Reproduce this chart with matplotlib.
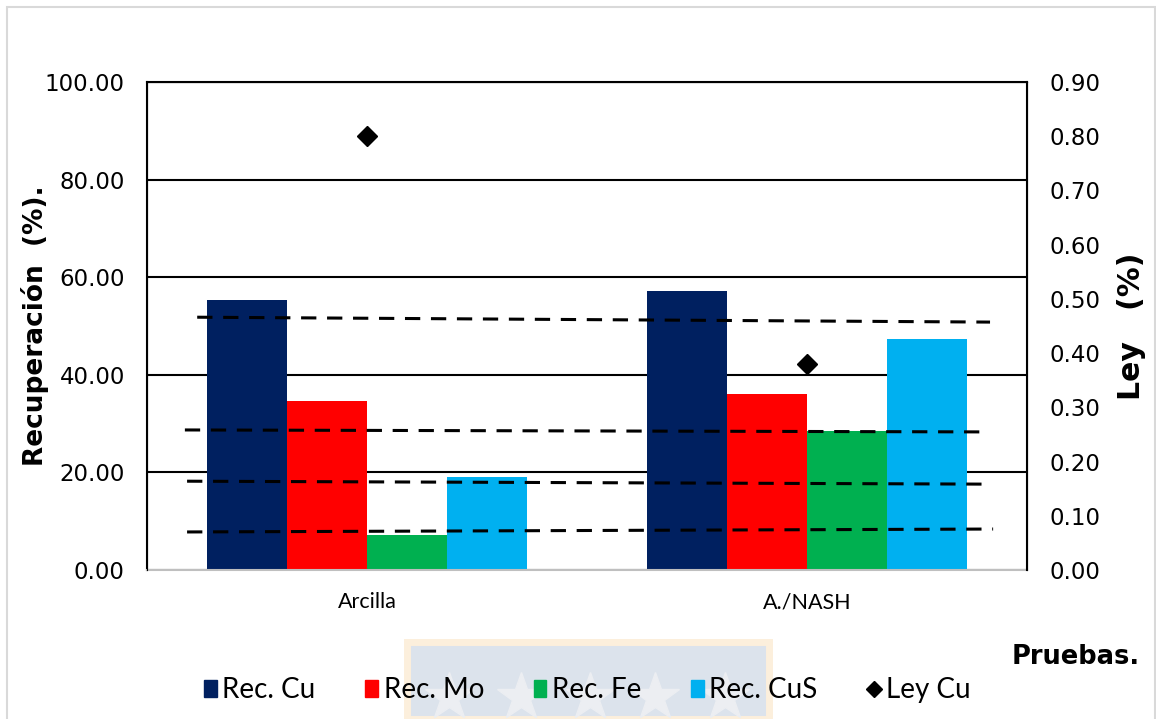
import matplotlib.pyplot as plt
import matplotlib.patches as mpatches
from matplotlib.lines import Line2D
import numpy as np

# data
pruebas = ["Arcilla", "A./NASH"]
rec_cu = [55.3, 57.2]
rec_mo = [34.6, 36.1]
rec_fe = [7.2, 28.5]
rec_cus = [19.1, 47.3]
ley_cu = [0.80, 0.38]

# hand drawn dashed lines: (x start, x end), (y start, y end) on the left axis
dash_x = [(-0.386, 1.416), (-0.414, 1.393), (-0.409, 1.405), (-0.409, 1.423)]
dash_y = [(51.8, 50.8), (28.7, 28.3), (18.2, 17.6), (7.8, 8.4)]

plt.rcParams["font.family"] = "DejaVu Sans"
NARROW = "Lato"
WIDE = "DejaVu Sans"

fig = plt.figure(figsize=(11.56, 7.19), dpi=100)
ax = fig.add_axes([0.1272, 0.2072, 0.7612, 0.6788])
ax2 = ax.twinx()

# faint watermark box behind the legend
fig.patches.append(mpatches.Rectangle((407 / 1156, 0), 362 / 1156, 77 / 719,
                                      transform=fig.transFigure, facecolor="#dce3ec",
                                      edgecolor="#fcefdc", linewidth=5, zorder=0))
fig.add_artist(Line2D([0.388, 0.451, 0.510, 0.567, 0.627], [0.03] * 5,
                      transform=fig.transFigure, linestyle="none", marker="*",
                      markersize=36, color="#eceef2", zorder=0.5))
# chart border
fig.patches.append(mpatches.Rectangle((0.006, -0.01), 0.993, 1.0, transform=fig.transFigure,
                                      fill=False, edgecolor="#d9d9d9", linewidth=1.5))

x = np.arange(len(pruebas))
w = 0.182
series = [(rec_cu, "#002060", "Rec. Cu"), (rec_mo, "#ff0000", "Rec. Mo"),
          (rec_fe, "#00b050", "Rec. Fe"), (rec_cus, "#00b0f0", "Rec. CuS")]
for i, (vals, col, lab) in enumerate(series):
    ax.bar(x + (i - 1.5) * w, vals, w, color=col, label=lab, zorder=2)

ax.set_xlim(-0.5, 1.5)
ax.set_ylim(0, 100)
ax.set_yticks(np.arange(0, 101, 20))
ax.set_yticklabels([f"{v:.2f}" for v in np.arange(0, 101, 20)], fontsize=16.5, family=WIDE)
ax.grid(axis="y", color="black", linewidth=1.5, zorder=1)
ax.set_axisbelow(True)
ax.set_xticks(x)
ax.set_xticklabels(pruebas, fontsize=15.5, family=NARROW)
ax.tick_params(axis="x", length=0, pad=16)
ax.tick_params(axis="y", length=0, pad=16)
for s in ["left", "top"]:
    ax.spines[s].set_linewidth(1.5)
ax.spines["bottom"].set_color("#bfbfbf")
ax.spines["bottom"].set_linewidth(1.5)
ax.set_ylabel("Recuperación  (%).", fontsize=19, fontweight="bold", family=WIDE, labelpad=-3)

for (x0, x1), (y0, y1) in zip(dash_x, dash_y):
    ax.plot([x0, x1], [y0, y1], color="black", linewidth=2.2, dashes=(5, 3.5), zorder=4)

ax2.plot(x, ley_cu, linestyle="none", marker="D", markersize=10.5, color="black",
         label="Ley Cu", zorder=5)
ax2.set_ylim(0, 0.9)
ax2.set_yticks(np.arange(0, 0.91, 0.1))
ax2.set_yticklabels([f"{v:.2f}" for v in np.arange(0, 0.91, 0.1)], fontsize=16.5, family=WIDE)
ax2.tick_params(axis="y", length=0, pad=16)
ax2.spines["right"].set_linewidth(1.5)
ax2.spines["bottom"].set_visible(False)
ax2.set_ylabel("Ley   (%)", fontsize=21.5, fontweight="bold", family=WIDE, labelpad=12)

fig.text(0.986, 0.086, "Pruebas.", fontsize=18.5, fontweight="bold", family=WIDE,
         ha="right", va="center")

handles = [mpatches.Patch(color=c) for _, c, _ in series]
handles.append(Line2D([], [], linestyle="none", marker="D", color="black", markersize=8))
labels = [l for _, _, l in series] + ["Ley Cu"]
fig.legend(handles, labels, loc="center", bbox_to_anchor=(0.508, 0.04), ncol=5,
           frameon=False, handlelength=0.45, handleheight=0.6, handletextpad=0.2,
           columnspacing=1.8, prop={"family": NARROW, "size": 20})

fig.savefig("out.png", dpi=100)
